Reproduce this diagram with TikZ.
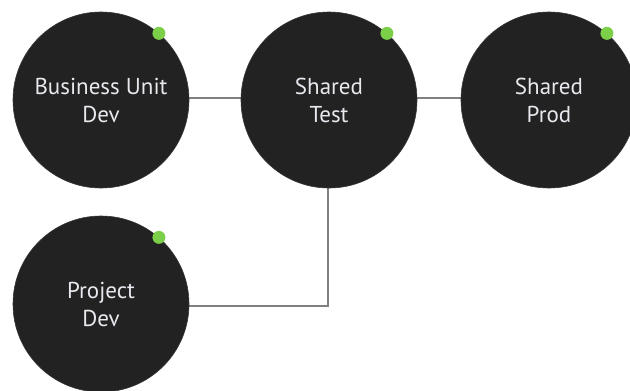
\documentclass[tikz,border=0pt]{standalone}
\usepackage{fontspec}
\setmainfont{PT Sans}
\definecolor{disc}{HTML}{222222}
\definecolor{dot}{HTML}{7CCF48}
\definecolor{wire}{HTML}{808080}
\definecolor{label}{HTML}{E8E8EE}
\begin{document}
\begin{tikzpicture}[x=1pt,y=-1pt,
  env/.style={circle,fill=disc,draw=disc!80!gray,line width=0.6pt,minimum size=176pt,inner sep=0pt,
    text=label,align=center,font=\fontsize{23}{28}\selectfont},
  status/.style={circle,fill=dot,minimum size=13pt,inner sep=0pt},
  link/.style={draw=wire,line width=1.3pt}]
\useasboundingbox (0,0) rectangle (630,391);
\begin{scope}
\clip (0,0) rectangle (630,391);
\coordinate (j) at (328,306);
\draw[link] (101,98) -- (329,98);
\draw[link] (329,98) -- (549,98);
\draw[link] (328,100) -- (j) -- (101,306);
\node[env] (bud) at (101,100) {Business Unit\\Dev};
\node[env] (st) at (329,100) {Shared\\Test};
\node[env] (sp) at (549,100) {Shared\\Prod};
\node[env] (pd) at (101,304) {Project\\Dev};
\node[status] (d1) at (bud.49) {};
\node[status] (d2) at (st.49) {};
\node[status] (d3) at (sp.49) {};
\node[status] (d4) at (pd.49) {};
\end{scope}
\end{tikzpicture}
\end{document}
